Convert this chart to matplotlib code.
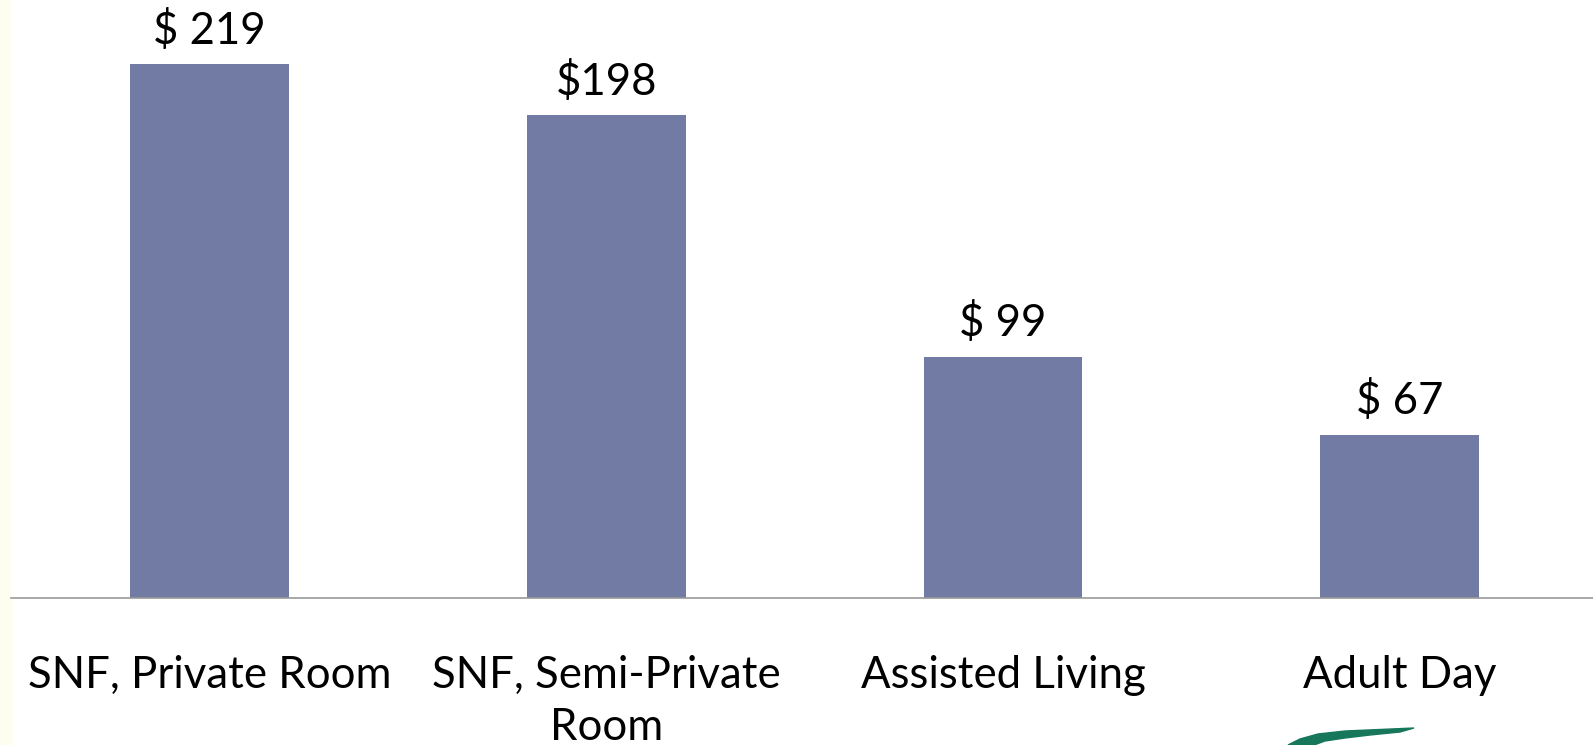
import matplotlib
matplotlib.use('Agg')
from matplotlib import pyplot as plt
from matplotlib.patches import Polygon, Rectangle

categories = ['SNF, Private Room', 'SNF, Semi-Private\nRoom', 'Assisted Living', 'Adult Day']
costs = [219, 198, 99, 67]
cost_labels = ['$ 219', '$198', '$ 99', '$ 67']

plt.rcParams['font.family'] = ['Lato', 'DejaVu Sans']

fig = plt.figure(figsize=(15.93, 7.45), dpi=100)
ax = fig.add_axes([11 / 1593, 147 / 745, 1 - 11 / 1593, 598 / 745])

x = range(len(categories))
bars = ax.bar(x, costs, width=0.4, color='#717ba3')
ax.bar_label(bars, labels=cost_labels, padding=9, fontsize=31.5)

ax.set_xlim(-0.5, 3.487)
ax.set_ylim(0, 245.3)
ax.set_xticks(list(x))
ax.set_xticklabels(categories, fontsize=31.5, linespacing=1.33)
ax.tick_params(axis='x', length=0, pad=41)
ax.set_yticks([])
for side in ['top', 'right', 'left']:
    ax.spines[side].set_visible(False)
ax.spines['bottom'].set_color('#9a9a9a')
ax.spines['bottom'].set_linewidth(1.2)

# faint strip on the left edge and the logo swoosh at the bottom
fig.patches.append(Rectangle((0, 0), 12 / 1593, 1, transform=fig.transFigure,
                             color='#fdfdf0', zorder=-1))
swoosh = [(1288, 745), (1300, 739), (1318, 734), (1345, 731), (1380, 729.5), (1414, 728),
          (1400, 732), (1370, 735), (1345, 738), (1325, 741), (1314, 745)]
fig.patches.append(Polygon([(px / 1593, 1 - py / 745) for px, py in swoosh],
                           closed=True, transform=fig.transFigure, color='#17775a'))

plt.savefig('out.png', dpi=100)
